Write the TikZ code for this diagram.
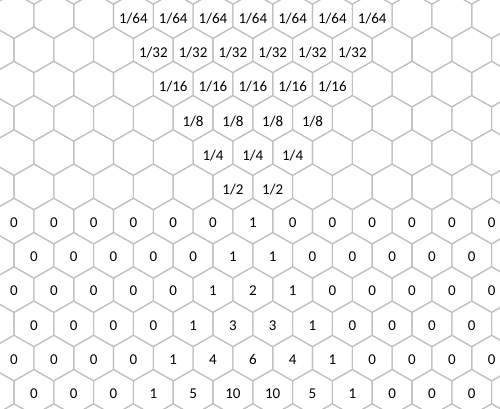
\documentclass[tikz,border=0pt]{standalone}
\usepackage{fontspec}
\setmainfont{Carlito}
\definecolor{hexgray}{RGB}{192,192,192}
\begin{document}
\begin{tikzpicture}[x=1pt,y=-1pt,
  hexline/.style={draw=hexgray, line width=1.1pt, line join=round},
  lbl/.style={font=\fontsize{15}{17}\selectfont, text=black, inner sep=0pt}]
\useasboundingbox (0,0) rectangle (500,409);
\fill[white] (0,0) rectangle (500,409);
\begin{scope}
\clip (0,0) rectangle (500,409);
\foreach \r in {-1,...,12} {
  \pgfmathsetmacro\cy{15.6+34.25*\r}
  \pgfmathsetmacro\off{mod(\r+2,2)==0 ? 14 : 33.9}
  \foreach \c in {-1,...,13} {
    \pgfmathsetmacro\cx{\off+39.8*\c}
    \draw[hexline] (\cx,\cy-22.8) -- (\cx+19.9,\cy-11.4) -- (\cx+19.9,\cy+11.4)
      -- (\cx,\cy+22.8) -- (\cx-19.9,\cy+11.4) -- (\cx-19.9,\cy-11.4) -- cycle;
  }
}
\end{scope}
% fraction rows
\foreach \r/\ks/\ke/\d in {0/3/9/64, 1/3/8/32, 2/4/8/16, 3/4/7/8, 4/5/7/4, 5/5/6/2} {
  \pgfmathsetmacro\cy{15.6+34.25*\r}
  \pgfmathsetmacro\off{mod(\r,2)==0 ? 14 : 33.9}
  \foreach \c in {\ks,...,\ke} {
    \pgfmathsetmacro\cx{\off+39.8*\c}
    \node[lbl] (f\r-\c) at (\cx,\cy+3) {1/\d};
  }
}
% binomial rows
\newcommand\hexrow[2]{%
  \pgfmathsetmacro\cy{15.6+34.25*#1}%
  \pgfmathsetmacro\off{mod(#1,2)==0 ? 14 : 33.9}%
  \foreach \v [count=\c from 0] in {#2} {
    \pgfmathsetmacro\cx{\off+39.8*\c}
    \node[lbl] (b#1-\c) at (\cx,\cy+1.5) {\v};
  }%
}
\hexrow{6}{0,0,0,0,0,0,1,0,0,0,0,0,0}
\hexrow{7}{0,0,0,0,0,1,1,0,0,0,0,0}
\hexrow{8}{0,0,0,0,0,1,2,1,0,0,0,0,0}
\hexrow{9}{0,0,0,0,1,3,3,1,0,0,0,0}
\hexrow{10}{0,0,0,0,1,4,6,4,1,0,0,0,0}
\hexrow{11}{0,0,0,1,5,10,10,5,1,0,0,0}
\end{tikzpicture}
\end{document}
